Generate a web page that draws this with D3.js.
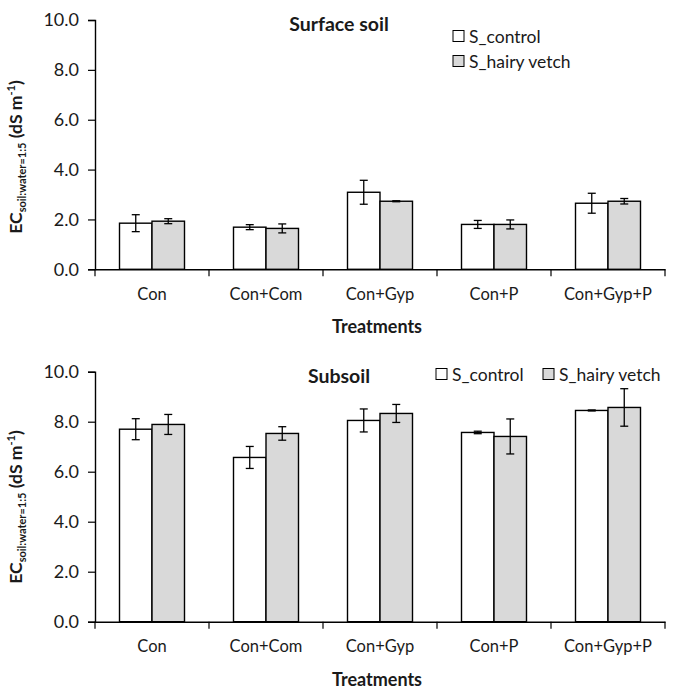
<!DOCTYPE html>
<html><head><meta charset="utf-8">
<script src="https://cdn.jsdelivr.net/npm/d3@7"></script>
<style>body{margin:0;background:#fff}svg{display:block}text{font-family:Lato,"Open Sans",sans-serif;fill:#1a1a1a}</style>
</head><body><svg id="c" width="680" height="692"></svg>
<script>
const categories = ["Con","Con+Com","Con+Gyp","Con+P","Con+Gyp+P"];
const seriesNames = ["S_control","S_hairy vetch"];
const seriesColors = ["#ffffff","#d9d9d9"];
const yTicks = [0,2,4,6,8,10];
const surfaceControl = [1.85,1.69,3.09,1.80,2.65];
const surfaceControlErr = [0.34,0.10,0.48,0.16,0.40];
const surfaceVetch = [1.93,1.64,2.73,1.80,2.73];
const surfaceVetchErr = [0.10,0.18,0.02,0.18,0.11];
const subControl = [7.70,6.57,8.05,7.57,8.45];
const subControlErr = [0.42,0.44,0.46,0.05,0.02];
const subVetch = [7.89,7.53,8.33,7.41,8.57];
const subVetchErr = [0.40,0.27,0.36,0.70,0.75];

const svg = d3.select("#c");

function panel(cfg){
  const g = svg.append("g");
  const x = d3.scaleBand().domain(categories).range([95,665]).paddingInner(0).paddingOuter(0);
  const x1 = d3.scaleBand().domain(seriesNames).range([0,x.bandwidth()]).paddingInner(0).paddingOuter(0.754);
  const y = d3.scaleLinear().domain([0,10]).range([cfg.y0,cfg.y10]);
  const series = [
    {name:seriesNames[0], vals:cfg.a, errs:cfg.ae, color:seriesColors[0]},
    {name:seriesNames[1], vals:cfg.b, errs:cfg.be, color:seriesColors[1]}
  ];
  series.forEach(s=>{
    g.append("g").selectAll("rect").data(categories).join("rect")
      .attr("x",(c)=>x(c)+x1(s.name)).attr("width",x1.bandwidth())
      .attr("y",(c,i)=>y(s.vals[i])).attr("height",(c,i)=>y(0)-y(s.vals[i]))
      .attr("fill",s.color).attr("stroke","#000").attr("stroke-width",1.4);
  });
  series.forEach(s=>{
    const eg = g.append("g").attr("stroke","#000").attr("stroke-width",1.3);
    categories.forEach((c,i)=>{
      const cx = x(c)+x1(s.name)+x1.bandwidth()/2;
      const hi = y(s.vals[i]+s.errs[i]), lo = y(s.vals[i]-s.errs[i]);
      eg.append("line").attr("x1",cx).attr("x2",cx).attr("y1",hi).attr("y2",lo);
      eg.append("line").attr("x1",cx-4).attr("x2",cx+4).attr("y1",hi).attr("y2",hi);
      eg.append("line").attr("x1",cx-4).attr("x2",cx+4).attr("y1",lo).attr("y2",lo);
    });
  });
  const ya = g.append("g").attr("transform","translate(95,0)")
    .call(d3.axisLeft(y).tickValues(yTicks).tickFormat(d3.format(".1f")).tickSizeOuter(0).tickSize(7).tickPadding(9));
  ya.select(".domain").attr("stroke-width",1.4);
  ya.selectAll(".tick line").attr("stroke-width",1.2);
  ya.selectAll("text").style("font-size","18px").attr("fill","#1a1a1a");
  const xa = g.append("g").attr("transform",`translate(0,${cfg.y0})`)
    .call(d3.axisBottom(x).tickSize(0).tickSizeOuter(0).tickPadding(19));
  xa.select(".domain").attr("stroke-width",1.4);
  xa.selectAll("text").style("font-size","16.5px").attr("fill","#1a1a1a");
  const bounds = categories.map(c=>x(c)).concat([x.range()[1]]);
  g.append("g").selectAll("line").data(bounds).join("line")
    .attr("x1",d=>d).attr("x2",d=>d).attr("y1",cfg.y0).attr("y2",cfg.y0+7)
    .attr("stroke","#000").attr("stroke-width",1.2);
  g.append("text").attr("x",377).attr("y",cfg.y0+64).attr("text-anchor","middle")
    .style("font-size","18px").style("font-weight","bold").text("Treatments");
  g.append("text").attr("x",cfg.tx).attr("y",cfg.ty).attr("text-anchor","middle")
    .style("font-size","19.5px").style("font-weight","bold").text(cfg.title);
  const yl = g.append("text").attr("transform",`translate(22,${cfg.ly}) rotate(-90)`)
    .attr("text-anchor","middle").style("font-weight","bold").style("font-size","17.5px");
  yl.append("tspan").text("EC");
  yl.append("tspan").attr("dy",4).style("font-size","11px").text("soil:water=1:5");
  yl.append("tspan").attr("dy",-4).text(" (dS m");
  yl.append("tspan").attr("dy",-7).style("font-size","11px").text("-1");
  yl.append("tspan").attr("dy",7).text(")");
  const lg = g.append("g");
  cfg.legend.forEach((p,i)=>{
    lg.append("rect").attr("x",p[0]).attr("y",p[1]-5.5).attr("width",11).attr("height",11)
      .attr("fill",seriesColors[i]).attr("stroke","#000").attr("stroke-width",1);
    lg.append("text").attr("x",p[0]+16).attr("y",p[1]+6.5).style("font-size","17.5px").text(seriesNames[i]);
  });
}

panel({y0:269.3,y10:20,a:surfaceControl,ae:surfaceControlErr,b:surfaceVetch,be:surfaceVetchErr,
  title:"Surface soil",tx:339,ty:31,ly:157,legend:[[453,36],[453,61]]});
panel({y0:621.7,y10:371.7,a:subControl,ae:subControlErr,b:subVetch,be:subVetchErr,
  title:"Subsoil",tx:339,ty:383,ly:507,legend:[[436,374],[543,374]]});
</script></body></html>
